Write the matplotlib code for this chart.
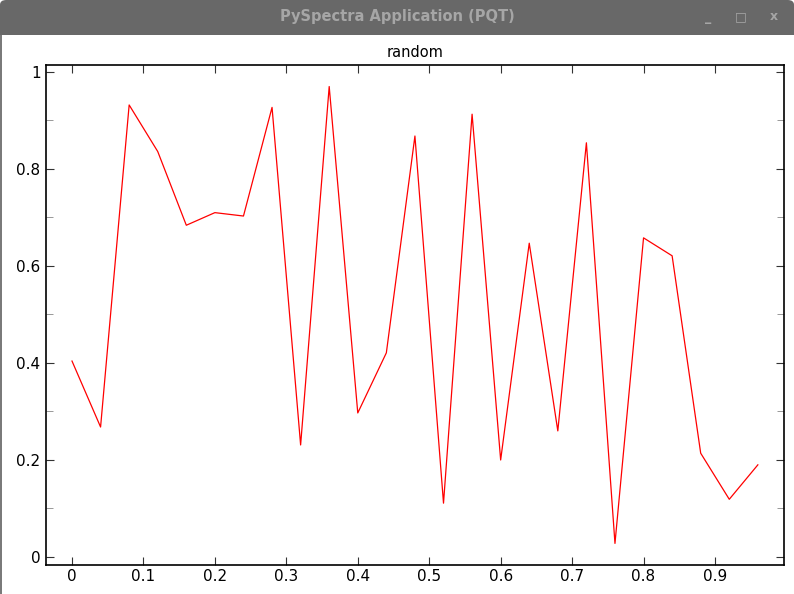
import numpy as np
import matplotlib
matplotlib.use('Agg')
import matplotlib.pyplot as plt
from matplotlib.patches import Rectangle, FancyBboxPatch
from matplotlib.ticker import MultipleLocator

# data
x_vals = [0.00, 0.04, 0.08, 0.12, 0.16, 0.20, 0.24, 0.28, 0.32, 0.36,
          0.40, 0.44, 0.48, 0.52, 0.56, 0.60, 0.64, 0.68, 0.72, 0.76,
          0.80, 0.84, 0.88, 0.92, 0.96]
y_vals = [0.404, 0.268, 0.932, 0.836, 0.684, 0.710, 0.703, 0.927, 0.231, 0.970,
          0.297, 0.421, 0.868, 0.111, 0.913, 0.200, 0.647, 0.260, 0.854, 0.028,
          0.658, 0.621, 0.214, 0.119, 0.190]
x_ticks = [0, 0.1, 0.2, 0.3, 0.4, 0.5, 0.6, 0.7, 0.8, 0.9]
x_labels = ['0', '0.1', '0.2', '0.3', '0.4', '0.5', '0.6', '0.7', '0.8', '0.9']
y_ticks = [0, 0.2, 0.4, 0.6, 0.8, 1.0]
y_labels = ['0', '0.2', '0.4', '0.6', '0.8', '1']

W, H = 794, 594
fig = plt.figure(figsize=(W / 100, H / 100), dpi=100)
fig.patch.set_facecolor('white')

# window frame: title bar (rounded top only) and left border
bar_h = 35 / H
fig.patches.append(FancyBboxPatch((0, 1 - bar_h), 1, bar_h,
                                  boxstyle='round,pad=0,rounding_size=0.008',
                                  transform=fig.transFigure, facecolor='#686868',
                                  edgecolor='none', zorder=0))
fig.patches.append(Rectangle((0, 1 - bar_h), 1, bar_h / 2, transform=fig.transFigure,
                             facecolor='#686868', edgecolor='none', zorder=0))
fig.patches.append(Rectangle((0, 0), 2 / W, 1 - bar_h, transform=fig.transFigure,
                             facecolor='#7a7a7a', edgecolor='none'))
fig.text(0.5, 1 - 17 / H, 'PySpectra Application (PQT)', ha='center', va='center',
         color='#a6a6a6', fontsize=10.5, fontweight='bold', family='DejaVu Sans')
for bx, sym in [(708, '_'), (741, '\u25a1'), (774, 'x')]:
    fig.text(bx / W, 1 - 17 / H, sym, ha='center', va='center',
             color='#a6a6a6', fontsize=9, fontweight='bold')

ax = fig.add_axes([46 / W, 29 / H, 738 / W, 500 / H])
ax.plot(x_vals, y_vals, color='red', linewidth=0.9)
ax.set_xlim(-0.0364, 0.9966)
ax.set_ylim(-0.0165, 1.0144)
ax.set_title('random', fontsize=10.5, pad=6)

ax.set_xticks(x_ticks)
ax.set_xticklabels(x_labels)
ax.set_yticks(y_ticks)
ax.set_yticklabels(y_labels)
ax.yaxis.set_minor_locator(MultipleLocator(0.1))
ax.tick_params(which='major', direction='in', length=6, width=0.8,
               top=True, right=True, labelsize=11, color='#333333')
ax.tick_params(axis='x', pad=3)
ax.tick_params(axis='y', pad=4)
ax.tick_params(which='minor', direction='in', length=5, width=0.6,
               left=True, right=True, color='#888888')
for s in ax.spines.values():
    s.set_linewidth(1.2)

fig.savefig('out.png', dpi=100)
